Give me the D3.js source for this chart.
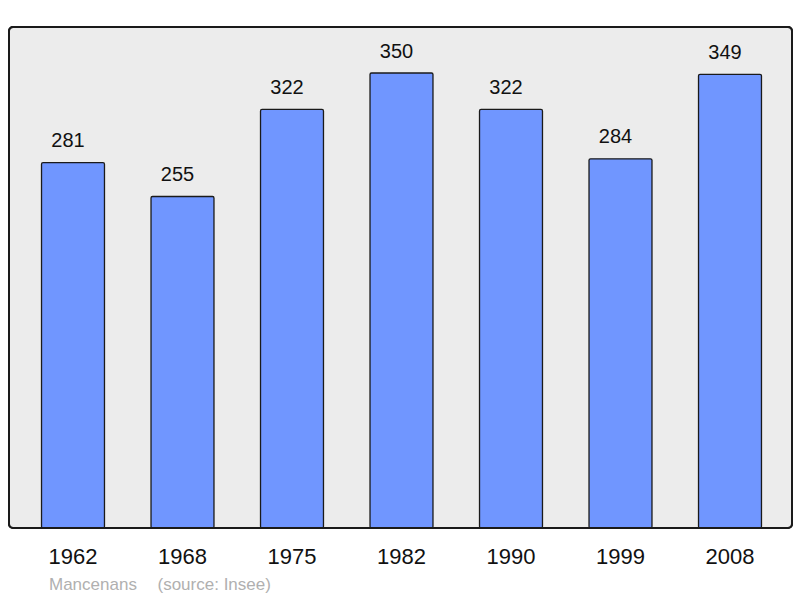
<!DOCTYPE html>
<meta charset="utf-8">
<style>
body { margin: 0; background: #fff; }
svg { display: block; font-family: "Liberation Sans", Arial, sans-serif; }
.panel { fill: #ececec; stroke: #1a1a1a; stroke-width: 2px; }
.bar { fill: #7096ff; stroke: #1a1a1a; stroke-width: 1.3px; }
.value { font-size: 20px; fill: #111; text-anchor: middle; }
.year { font-size: 22px; fill: #111; text-anchor: middle; }
.note { font-size: 17px; fill: #b0b0b0; }
</style>
<svg width="800" height="598"></svg>
<script src="https://d3js.org/d3.v7.min.js"></script>
<script>

var years = ["1962", "1968", "1975", "1982", "1990", "1999", "2008"];
var population = [281, 255, 322, 350, 322, 284, 349];
var town = "Mancenans";
var source = "(source: Insee)";

var svg = d3.select("svg");

// plotting frame
var frameLeft = 9, frameRight = 792, frameTop = 27, frameBottom = 528;

var x = d3.scaleBand()
    .domain(years)
    .range([18.25, 784.75])
    .paddingInner(0.425)
    .paddingOuter(0.2125);

var y = d3.scaleLinear()
    .domain([0, 350])
    .range([frameBottom, 73]);

svg.append("rect")
    .attr("class", "panel")
    .attr("x", frameLeft)
    .attr("y", frameTop)
    .attr("width", frameRight - frameLeft)
    .attr("height", frameBottom - frameTop)
    .attr("rx", 4);

var g = svg.selectAll("g.col")
    .data(years)
  .enter().append("g")
    .attr("class", "col");

g.append("rect")
    .attr("class", "bar")
    .attr("x", function(d) { return x(d); })
    .attr("y", function(d, i) { return y(population[i]); })
    .attr("width", x.bandwidth())
    .attr("height", function(d, i) { return frameBottom - y(population[i]); })
    .attr("rx", 1.5);

g.append("text")
    .attr("class", "value")
    .attr("x", function(d) { return x(d) + x.bandwidth() / 2 - 5; })
    .attr("y", function(d, i) { return y(population[i]) - 15.5; })
    .text(function(d, i) { return population[i]; });

// redraw panel border on top of bar bottoms
svg.append("rect")
    .attr("x", frameLeft)
    .attr("y", frameTop)
    .attr("width", frameRight - frameLeft)
    .attr("height", frameBottom - frameTop)
    .attr("rx", 4)
    .attr("fill", "none")
    .attr("stroke", "#1a1a1a")
    .attr("stroke-width", 2);

svg.append("g").selectAll("text")
    .data(years)
  .enter().append("text")
    .attr("class", "year")
    .attr("x", function(d) { return x(d) + x.bandwidth() / 2; })
    .attr("y", 564)
    .text(function(d) { return d; });

svg.append("text")
    .attr("class", "note")
    .attr("x", 49)
    .attr("y", 590)
    .text(town);

svg.append("text")
    .attr("class", "note")
    .attr("x", 157.5)
    .attr("y", 590)
    .text(source);

</script>
